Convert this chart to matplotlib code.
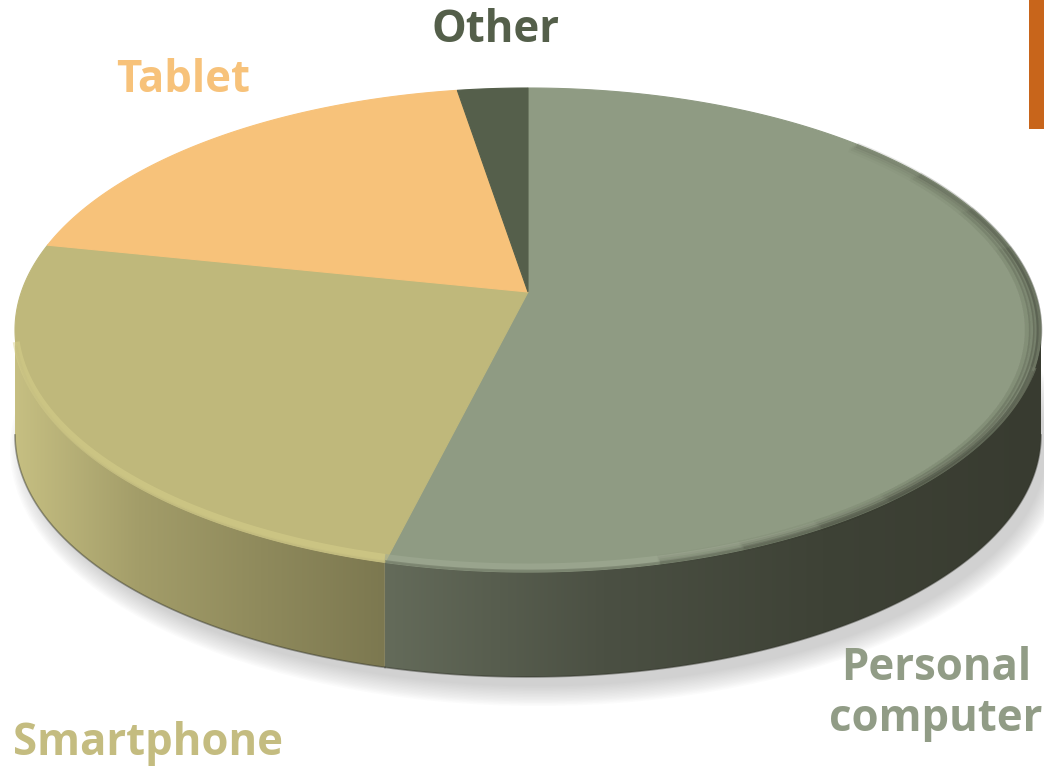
import numpy as np
import matplotlib.pyplot as plt
from matplotlib.patches import Polygon, Ellipse, Rectangle
from matplotlib.colors import LinearSegmentedColormap

labels = ['Personal\ncomputer', 'Smartphone', 'Tablet', 'Other']
shares = [54.5, 26.2, 17.1, 2.2]
top_colors = ['#8f9b83', '#bfb87b', '#f7c27a', '#555f4b']
# side wall colours, left to right on screen
side_colors = [['#646b5a', '#4b5043', '#3e4236', '#383b30'],
               ['#c6bf82', '#a39d69', '#8f8a5c', '#7c7850'],
               ['#d9a765', '#b88a50'],
               ['#474f3f', '#3c4335']]
rim_light = ['#a3ae97', '#d8d18c', '#fbd49a', '#6b765f']
label_colors = ['#919c86', '#c4bc80', '#f7c27a', '#545f4a']
label_pos = [(936, 694), (148, 743), (183, 81), (495, 31)]

W, H = 1044, 767
cx, cy = 528, 330
rx, ry = 513, 242
apex = (528, 292)
depth = 105


def rim(t, s=1.0):
    t = np.radians(t)
    return cx + rx * s * np.sin(t), cy - ry * s * np.cos(t)


fig = plt.figure(figsize=(W / 100, H / 100), dpi=100)
ax = fig.add_axes([0, 0, 1, 1])

# soft shadow under the disc
for k in range(14):
    ax.add_patch(Ellipse((cx + 10, cy + depth + 14), 2 * rx + 30 - 3 * k, 2 * ry + 30 - 3 * k,
                         color='#9a9a9a', alpha=0.035, lw=0))

angles = np.concatenate([[0], np.cumsum(shares) / sum(shares) * 360])

# side walls (front half only)
for i in range(len(shares)):
    a, b = max(angles[i], 90), min(angles[i + 1], 270)
    if a >= b:
        continue
    t = np.linspace(a, b, 200)
    x, y = rim(t)
    xs = np.concatenate([x, x[::-1]])
    ys = np.concatenate([y, (y + depth)[::-1]])
    poly = Polygon(np.column_stack([xs, ys]), closed=True, fc='none', ec='none')
    ax.add_patch(poly)
    cmap = LinearSegmentedColormap.from_list('s%d' % i, side_colors[i])
    grad = np.linspace(0, 1, 256).reshape(1, -1)
    im = ax.imshow(grad, cmap=cmap, aspect='auto',
                   extent=(xs.min(), xs.max(), ys.max(), ys.min()), zorder=2)
    im.set_clip_path(poly)
    ax.plot(x, y + depth, color='#2f3128', lw=1.2, alpha=0.45, zorder=3)

# top faces
for i in range(len(shares)):
    t = np.linspace(angles[i], angles[i + 1], 300)
    x, y = rim(t)
    pts = np.vstack([[apex], np.column_stack([x, y])])
    ax.add_patch(Polygon(pts, closed=True, fc=top_colors[i], ec=top_colors[i], lw=0.8, zorder=4))

# bevel: light band along the front rim
for i in range(len(shares)):
    a, b = max(angles[i], 100), min(angles[i + 1], 266)
    if a >= b:
        continue
    t = np.linspace(a, b, 200)
    x, y = rim(t)
    ax.plot(x, y - 5, color=rim_light[i], lw=5, alpha=0.5, zorder=5, solid_capstyle='butt')
    ax.plot(x, y - 1, color=side_colors[i][0], lw=2, alpha=0.45, zorder=5, solid_capstyle='butt')

# dark soft rim on the right part of the top face, fading at both ends
for a, b in [(40, 165), (50, 155), (60, 145), (70, 135)]:
    t = np.linspace(a, b, 300)
    for s, al in [(0.997, 0.12), (0.99, 0.08), (0.982, 0.05), (0.974, 0.03)]:
        x, y = rim(t, s)
        ax.plot(x, y, color='#3a3e32', lw=4, alpha=al, zorder=5, solid_capstyle='butt')

# labels
for lab, (lx, ly), col in zip(labels, label_pos, label_colors):
    ax.text(lx, ly, lab, ha='center', va='center', color=col, fontsize=31.5,
            fontweight='bold', family='Open Sans', linespacing=1.2, zorder=6)

# slide accent bar
ax.add_patch(Rectangle((1029, 0), 15, 129, color='#c8651b', lw=0, zorder=6))

ax.set_xlim(0, W)
ax.set_ylim(H, 0)
ax.axis('off')
fig.savefig('out.png', dpi=100)
